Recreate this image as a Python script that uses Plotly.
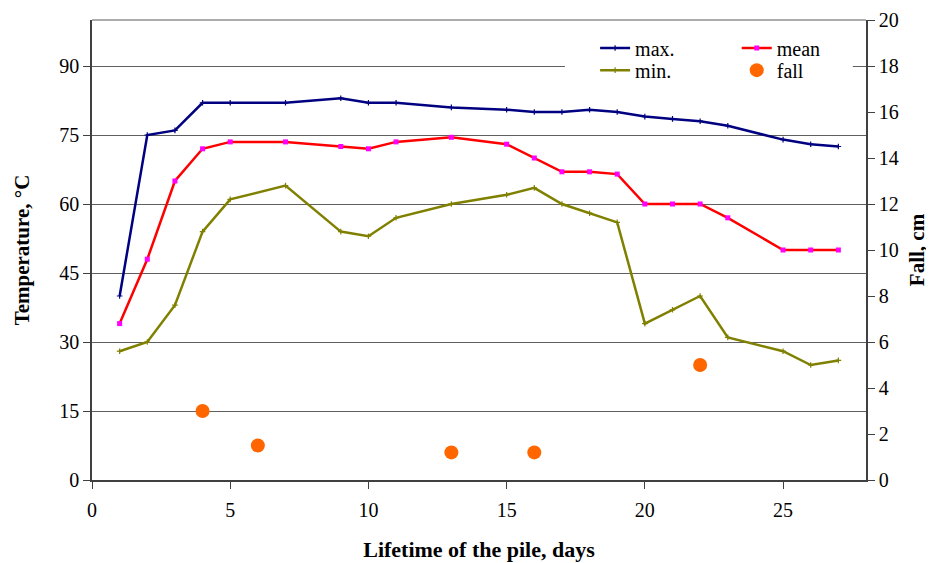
import plotly.graph_objects as go

days = [1, 2, 3, 4, 5, 7, 9, 10, 11, 13, 15, 16, 17, 18, 19, 20, 21, 22, 23, 25, 26, 27]
t_max = [40, 75, 76, 82, 82, 82, 83, 82, 82, 81, 80.5, 80, 80, 80.5, 80, 79, 78.5, 78, 77, 74, 73, 72.5]
t_mean = [34, 48, 65, 72, 73.5, 73.5, 72.5, 72, 73.5, 74.5, 73, 70, 67, 67, 66.5, 60, 60, 60, 57, 50, 50, 50]
t_min = [28, 30, 38, 54, 61, 64, 54, 53, 57, 60, 62, 63.5, 60, 58, 56, 34, 37, 40, 31, 28, 25, 26]
fall_days = [4, 6, 13, 16, 22]
fall_cm = [3, 1.5, 1.2, 1.2, 5]

left_ticks = [0, 15, 30, 45, 60, 75, 90]
right_ticks = [0, 2, 4, 6, 8, 10, 12, 14, 16, 18, 20]
x_ticks = [0, 5, 10, 15, 20, 25]

FONT = "Liberation Serif"
AXC = "#404040"


def f(size):
    return dict(family=FONT, size=size, color="black")


fig = go.Figure()
fig.add_trace(go.Scatter(x=days, y=t_max, name="max.", mode="lines+markers",
                         line=dict(color="#000080", width=2.5),
                         marker=dict(symbol="cross-thin", size=4, color="#000080",
                                     line=dict(color="#000080", width=1.2)),
                         legend="legend"))
fig.add_trace(go.Scatter(x=days, y=t_mean, name="mean", mode="lines+markers",
                         line=dict(color="#FF0000", width=2.5),
                         marker=dict(symbol="square", size=5, color="#FF00FF"),
                         legend="legend2"))
fig.add_trace(go.Scatter(x=days, y=t_min, name="min.", mode="lines+markers",
                         line=dict(color="#808000", width=2.5),
                         marker=dict(symbol="cross-thin", size=4, color="#808000",
                                     line=dict(color="#808000", width=1.2)),
                         legend="legend3"))
fig.add_trace(go.Scatter(x=fall_days, y=fall_cm, name="fall", mode="markers",
                         marker=dict(symbol="circle", size=14, color="#FF6600"),
                         yaxis="y2", legend="legend4"))

leg_common = dict(bgcolor="rgba(0,0,0,0)", font=f(20),
                  itemwidth=30, xanchor="left", yanchor="middle")

fig.update_layout(
    template="none",
    width=926, height=555,
    margin=dict(l=84, r=68, t=12, b=83, pad=0),
    paper_bgcolor="white", plot_bgcolor="white",
    font=f(20),
    showlegend=True,
    xaxis=dict(range=[0, 28], tickvals=x_ticks, ticks="outside", ticklen=7,
               tickcolor=AXC, showline=True, linecolor=AXC, linewidth=1.5,
               showgrid=False, zeroline=False, automargin=False,
               tickfont=f(20), ticklabelstandoff=4,
               title=dict(text="<b>Lifetime of the pile, days</b>",
                          font=f(22), standoff=22)),
    yaxis=dict(range=[0, 100], tickvals=left_ticks, ticks="outside", ticklen=7,
               tickcolor=AXC, showline=True, linecolor=AXC, linewidth=1.5,
               showgrid=True, gridcolor="#606060", gridwidth=1.2,
               zeroline=False, automargin=False, tickfont=f(20),
               title=dict(text="<b>Temperature, °C</b>",
                          font=f(21), standoff=24)),
    yaxis2=dict(range=[0, 20], tickvals=right_ticks, overlaying="y", side="right",
                ticks="outside", ticklen=7, tickcolor=AXC, showline=True,
                linecolor=AXC, linewidth=1.5, showgrid=False, zeroline=False,
                automargin=False, tickfont=f(20),
                title=dict(text="<b>Fall, cm</b>", font=f(21), standoff=12)),
    legend=dict(x=0.650, y=0.939, **leg_common),
    legend2=dict(x=0.833, y=0.939, **leg_common),
    legend3=dict(x=0.650, y=0.891, **leg_common),
    legend4=dict(x=0.833, y=0.891, **leg_common),
    shapes=[
        dict(type="rect", xref="paper", yref="paper", x0=0.611, x1=0.983,
             y0=0.865, y1=0.978, fillcolor="white", line=dict(width=0),
             layer="above"),
        dict(type="line", xref="paper", yref="paper", x0=0, x1=1, y0=1, y1=1,
             line=dict(color="#909090", width=1.5), layer="above"),
    ],
)

fig.write_html("out.html")
